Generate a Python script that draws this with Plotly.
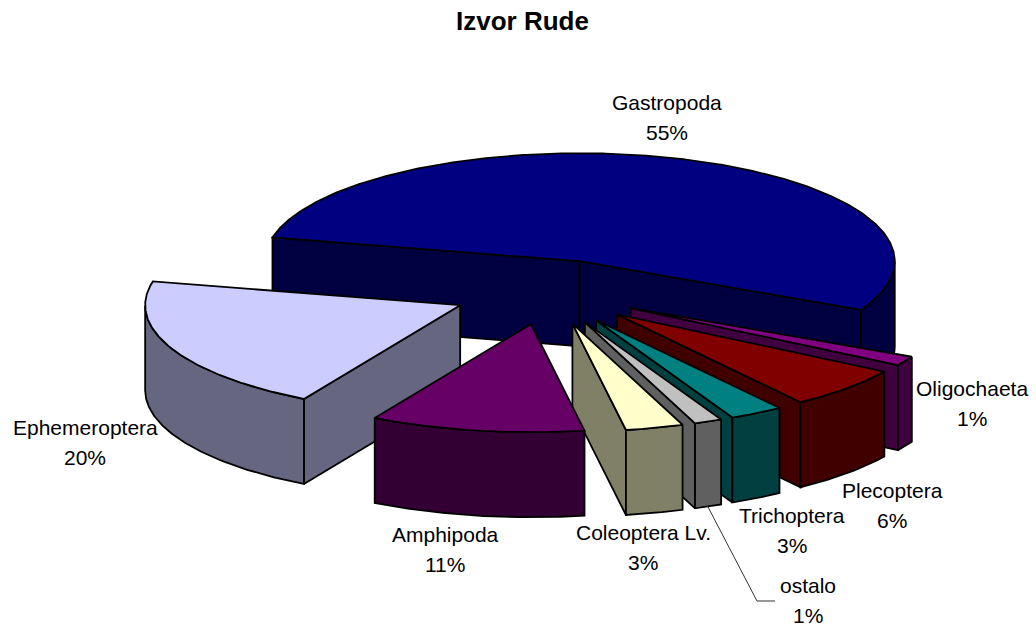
import numpy as np
import plotly.graph_objects as go

categories = ["Gastropoda", "Oligochaeta", "Plecoptera", "Trichoptera", "ostalo",
              "Coleoptera Lv.", "Amphipoda", "Ephemeroptera"]
values = [54.51, 1.45, 6.3, 2.8, 1.45, 3.0, 11.1, 20.49]
top_colors = ["#000080", "#800080", "#800000", "#008080", "#C0C0C0", "#FFFFCC", "#660066", "#CCCCFF"]
side_colors = ["#000040", "#400040", "#400000", "#004040", "#606060", "#808066", "#330033", "#666680"]
label_x = [667, 972, 892, 792, 808, 643, 445, 85]
label_y = [102, 388, 490, 515, 585, 532, 534, 427]
leader_x = [707, 757, 775]
leader_y = [505, 601, 601]

# projection of the exploded 3-D pie onto the page
CX, CY, RX, RY, DEPTH, EXPLODE, START = 547.5, 292.0, 315.0, 108.0, 85.0, 0.303, 192.7
LINE = 1.8

total = sum(values)
spans = [v / total * 360 for v in values]
starts = START + np.concatenate([[0], np.cumsum(spans)[:-1]])


def ell(cx, cy, t):
    r = np.radians(t)
    return cx + RX * np.cos(r), cy + RY * np.sin(r)


fig = go.Figure()


def poly(x, y, color):
    fig.add_trace(go.Scatter(x=list(x), y=list(y), mode="lines", fill="toself", fillcolor=color,
                             line=dict(color="black", width=LINE), hoverinfo="skip", showlegend=False))


def draw_slice(i):
    t0, t1 = starts[i], starts[i] + spans[i]
    mid = np.radians((t0 + t1) / 2)
    ax = CX + EXPLODE * RX * np.cos(mid)
    ay = CY + EXPLODE * RY * np.sin(mid)
    # cut faces
    for t, normal in ((t0, t0 - 90), (t1, t1 + 90)):
        if np.sin(np.radians(normal)) > 0:
            px, py = ell(ax, ay, t)
            poly([ax, px, px, ax, ax], [ay, py, py + DEPTH, ay + DEPTH, ay], side_colors[i])
    # outer wall: the part of the arc that faces the viewer
    ts = np.arange(t0, t1 + 0.5, 0.5)
    ts = np.append(ts[ts < t1], t1)
    vis = np.sin(np.radians(ts)) >= 0
    if vis.any():
        tv = ts[vis]
        px, py = ell(ax, ay, tv)
        poly(np.concatenate([px, px[::-1], px[:1]]),
             np.concatenate([py, py[::-1] + DEPTH, py[:1]]), side_colors[i])
    # top face
    px, py = ell(ax, ay, ts)
    poly(np.concatenate([[ax], px, [ax]]), np.concatenate([[ay], py, [ay]]), top_colors[i])


for i in [0, 7, 1, 2, 3, 4, 5, 6]:
    draw_slice(i)

fig.add_trace(go.Scatter(x=leader_x, y=leader_y, mode="lines", line=dict(color="#333333", width=1),
                         hoverinfo="skip", showlegend=False))

font = dict(family="Liberation Sans, Arial, sans-serif", size=21, color="black")
annotations = []
for name, v, x, y in zip(categories, values, label_x, label_y):
    annotations.append(dict(x=x, y=y, text=name, showarrow=False, font=font, xanchor="center", yanchor="middle"))
    annotations.append(dict(x=x, y=y + 30, text=f"{v:.0f}%", showarrow=False, font=font, xanchor="center", yanchor="middle"))
annotations.append(dict(x=522, y=21, text="<b>Izvor Rude</b>", showarrow=False, xanchor="center", yanchor="middle",
                        font=dict(family="Liberation Sans, Arial, sans-serif", size=26, color="black")))

fig.update_layout(
    width=1036, height=628, margin=dict(l=0, r=0, t=0, b=0),
    paper_bgcolor="white", plot_bgcolor="white", showlegend=False, annotations=annotations,
    xaxis=dict(range=[0, 1036], visible=False, fixedrange=True),
    yaxis=dict(range=[628, 0], visible=False, fixedrange=True),
)
fig.write_html("out.html", post_script="document.body.style.margin='0';document.body.style.overflow='hidden';",
               config={"displayModeBar": False})
